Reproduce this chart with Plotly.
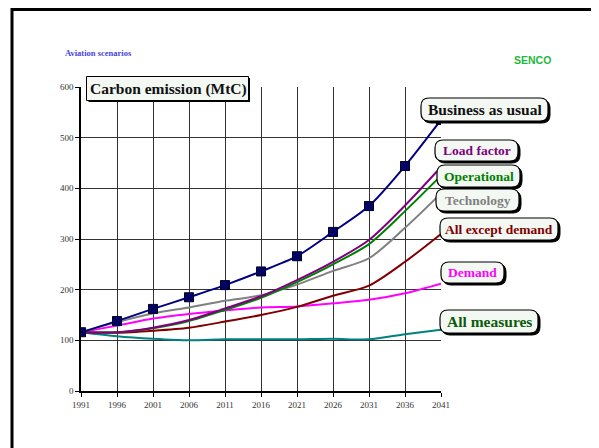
import plotly.graph_objects as go

OFF = 8  # default page body margin
W, H = 599 - OFF, 448 - OFF
L, R, T, B = 81 - OFF, 441 - OFF, 87 - OFF, 391 - OFF  # plot area in figure pixels

years = [1991, 1996, 2001, 2006, 2011, 2016, 2021, 2026, 2031, 2036, 2041]
business_as_usual = [116, 138, 162, 185, 209, 236, 266, 314, 365, 444, 535]
load_factor = [116, 116, 125, 140, 163, 187, 219, 255, 298, 366, 442]
operational = [116, 116, 124, 138, 160, 184, 215, 250, 290, 355, 425]
technology = [116, 136, 153, 165, 178, 189, 210, 237, 262, 322, 390]
all_except_demand = [116, 115, 119, 125, 137, 150, 166, 188, 208, 255, 310]
demand = [116, 129, 143, 152, 159, 165, 167, 173, 180, 193, 212]
all_measures = [116, 108, 103, 100, 102, 102, 102, 103, 102, 112, 121]

y_ticks = [0, 100, 200, 300, 400, 500, 600]

series = [
    ("All measures", all_measures, "#008080"),
    ("Demand", demand, "#FF00FF"),
    ("All except demand", all_except_demand, "#800000"),
    ("Technology", technology, "#808080"),
    ("Operational", operational, "#008000"),
    ("Load factor", load_factor, "#800080"),
]

fig = go.Figure()
for name, vals, col in series:
    fig.add_trace(go.Scatter(x=years, y=vals, mode="lines", name=name,
                             line=dict(color=col, width=2, shape="spline", smoothing=0.8)))
fig.add_trace(go.Scatter(x=years, y=business_as_usual, mode="lines+markers", name="Business as usual",
                         line=dict(color="#000080", width=2, shape="spline", smoothing=0.8),
                         marker=dict(symbol="square-x", size=9, color="#000080",
                                     line=dict(color="#000020", width=1))))


def px(x):
    return (x - OFF - L) / (R - L)


def py(y):
    return (B - (y - OFF)) / (B - T)


shapes = []
annotations = []


def rrect_path(w, h, r):
    return (f"M {r},0 L {w-r},0 Q {w},0 {w},{-r} L {w},{-(h-r)} Q {w},{-h} {w-r},{-h} "
            f"L {r},{-h} Q 0,{-h} 0,{-(h-r)} L 0,{-r} Q 0,0 {r},0 Z")


def label_box(x0, y0, x1, y1, text, color, size, radius=8):
    w, h = x1 - x0, y1 - y0
    shapes.append(dict(type="path", xref="paper", yref="paper", xsizemode="pixel", ysizemode="pixel",
                       xanchor=px(x0 + 2), yanchor=py(y0 + 2), path=rrect_path(w, h, radius),
                       fillcolor="black", line=dict(color="black", width=1), layer="above"))
    shapes.append(dict(type="path", xref="paper", yref="paper", xsizemode="pixel", ysizemode="pixel",
                       xanchor=px(x0), yanchor=py(y0), path=rrect_path(w, h, radius),
                       fillcolor="#F3F8F3", line=dict(color="black", width=1.2), layer="above"))
    annotations.append(dict(x=px((x0 + x1) / 2), y=py((y0 + y1) / 2), xref="paper", yref="paper",
                            text=f"<b>{text}</b>", showarrow=False, xanchor="center", yanchor="middle",
                            font=dict(family="Liberation Serif", size=size, color=color)))


label_box(421, 98, 548, 121, "Business as usual", "#111111", 15.5)
label_box(435, 140, 518, 161, "Load factor", "#800080", 13.5)
label_box(437, 165, 520, 187, "Operational", "#008000", 13.5)
label_box(436, 189, 519, 211, "Technology", "#808080", 13.5)
label_box(440, 218, 558, 240, "All except demand", "#800000", 13.5)
label_box(441, 262, 504, 283, "Demand", "#FF00FF", 13.5)
label_box(440, 310, 538, 333, "All measures", "#0B5B0B", 15.5)

# title box (square corners)
shapes.append(dict(type="rect", xref="paper", yref="paper", x0=px(88.5), x1=px(250), y0=py(78), y1=py(102),
                   fillcolor="black", line=dict(width=0), layer="above"))
shapes.append(dict(type="rect", xref="paper", yref="paper", x0=px(86.5), x1=px(248.5), y0=py(76.5), y1=py(100.5),
                   fillcolor="#F3F8F3", line=dict(color="black", width=1), layer="above"))
annotations.append(dict(x=px(168), y=py(88.5), xref="paper", yref="paper", xanchor="center", yanchor="middle",
                        text="<b>Carbon emission (MtC)</b>", showarrow=False,
                        font=dict(family="Liberation Serif", size=15.5, color="#111111")))

# page frame
shapes.append(dict(type="path", xref="paper", yref="paper",
                   path=f"M {px(12)},{py(470)} L {px(12)},{py(9.5)} L {px(595)},{py(9.5)} L {px(595)},{py(470)}",
                   line=dict(color="black", width=3), layer="above"))
shapes.append(dict(type="line", xref="paper", yref="paper", x0=px(596.5), x1=px(596.5), y0=py(11), y1=py(470),
                   line=dict(color="black", width=2), layer="above"))

annotations.append(dict(x=px(63), y=py(53), xref="paper", yref="paper", xanchor="left", yanchor="middle",
                        text="<b>Aviation scenarios</b>", showarrow=False,
                        font=dict(family="Liberation Serif", size=8.5, color="#4646E0")))
annotations.append(dict(x=px(532), y=py(60), xref="paper", yref="paper", xanchor="center", yanchor="middle",
                        text="<b>SENCO</b>", showarrow=False,
                        font=dict(family="Liberation Sans", size=10.5, color="#22B83E")))

fig.update_layout(
    width=W, height=H,
    margin=dict(l=L, r=W - R, t=T, b=H - B, pad=0),
    paper_bgcolor="white", plot_bgcolor="white",
    showlegend=False,
    shapes=shapes, annotations=annotations,
    xaxis=dict(range=[1991, 2041], tickvals=years, ticktext=[str(y) for y in years],
               showgrid=True, gridcolor="#333333", gridwidth=1, zeroline=False,
               showline=True, linecolor="black", linewidth=1.5, ticks="outside", ticklen=4,
               tickcolor="black", tickfont=dict(family="Liberation Serif", size=9, color="#333333")),
    yaxis=dict(range=[0, 600], tickvals=y_ticks, ticktext=[str(v) for v in y_ticks],
               showgrid=True, gridcolor="#333333", gridwidth=1, zeroline=False,
               showline=True, linecolor="black", linewidth=1.5, ticks="outside", ticklen=4,
               tickcolor="black", tickfont=dict(family="Liberation Serif", size=9, color="#333333")),
)

fig.write_html("out.html")
